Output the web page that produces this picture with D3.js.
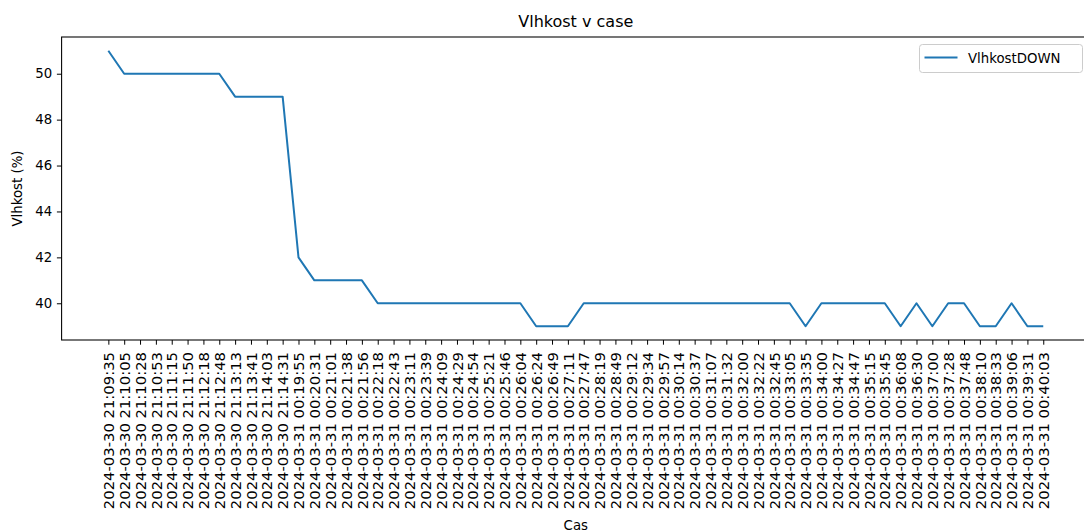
<!DOCTYPE html>
<html>
<head>
<meta charset="utf-8">
<script src="https://cdn.jsdelivr.net/npm/d3@7"></script>
<style>
  body { margin: 0; background: #fff; }
  svg { display: block; font-family: "DejaVu Sans", sans-serif; }
</style>
</head>
<body>
<div id="chart"></div>
<script>
// casy mereni
const times = [
  "2024-03-30 21:09:35", "2024-03-30 21:10:05", "2024-03-30 21:10:28", "2024-03-30 21:10:53",
  "2024-03-30 21:11:15", "2024-03-30 21:11:50", "2024-03-30 21:12:18", "2024-03-30 21:12:48",
  "2024-03-30 21:13:13", "2024-03-30 21:13:41", "2024-03-30 21:14:03", "2024-03-30 21:14:31",
  "2024-03-31 00:19:55", "2024-03-31 00:20:31", "2024-03-31 00:21:01", "2024-03-31 00:21:38",
  "2024-03-31 00:21:56", "2024-03-31 00:22:18", "2024-03-31 00:22:43", "2024-03-31 00:23:11",
  "2024-03-31 00:23:39", "2024-03-31 00:24:09", "2024-03-31 00:24:29", "2024-03-31 00:24:54",
  "2024-03-31 00:25:21", "2024-03-31 00:25:46", "2024-03-31 00:26:04", "2024-03-31 00:26:24",
  "2024-03-31 00:26:49", "2024-03-31 00:27:11", "2024-03-31 00:27:47", "2024-03-31 00:28:19",
  "2024-03-31 00:28:49", "2024-03-31 00:29:12", "2024-03-31 00:29:34", "2024-03-31 00:29:57",
  "2024-03-31 00:30:14", "2024-03-31 00:30:37", "2024-03-31 00:31:07", "2024-03-31 00:31:32",
  "2024-03-31 00:32:00", "2024-03-31 00:32:22", "2024-03-31 00:32:45", "2024-03-31 00:33:05",
  "2024-03-31 00:33:35", "2024-03-31 00:34:00", "2024-03-31 00:34:27", "2024-03-31 00:34:47",
  "2024-03-31 00:35:15", "2024-03-31 00:35:45", "2024-03-31 00:36:08", "2024-03-31 00:36:30",
  "2024-03-31 00:37:00", "2024-03-31 00:37:28", "2024-03-31 00:37:48", "2024-03-31 00:38:10",
  "2024-03-31 00:38:33", "2024-03-31 00:39:06", "2024-03-31 00:39:31", "2024-03-31 00:40:03"
];

// VlhkostDOWN (%)
const vlhkostDown = [
  51, 50, 50, 50, 50, 50, 50, 50, 49, 49, 49, 49,
  42, 41, 41, 41, 41, 40, 40, 40, 40, 40, 40, 40,
  40, 40, 40, 39, 39, 39, 40, 40, 40, 40, 40, 40,
  40, 40, 40, 40, 40, 40, 40, 40, 39, 40, 40, 40,
  40, 40, 39, 40, 39, 40, 40, 39, 39, 40, 39, 39
];

const yTicks = [40, 42, 44, 46, 48, 50];

const seriesName = "VlhkostDOWN";
const lineColor = "#1f77b4";

(function(){
  const width = 1084, height = 532;
  const plot = { left: 61.6, right: 1090, top: 37, bottom: 340 };

  const svg = d3.select("#chart")
    .append("svg")
    .attr("width", width)
    .attr("height", height);

  const x = d3.scalePoint()
    .domain(times)
    .range([plot.left, plot.right])
    .padding(2.95);

  const yExtent = d3.extent(vlhkostDown);
  const pad = (yExtent[1] - yExtent[0]) * 0.05;
  const y = d3.scaleLinear()
    .domain([yExtent[0] - pad, yExtent[1] + pad])
    .range([plot.bottom, plot.top]);

  // line
  const line = d3.line()
    .x((d, i) => x(times[i]))
    .y(d => y(d));

  svg.append("path")
    .datum(vlhkostDown)
    .attr("fill", "none")
    .attr("stroke", lineColor)
    .attr("stroke-width", 2)
    .attr("stroke-linejoin", "round")
    .attr("d", line);

  // axes
  const xAxis = svg.append("g")
    .attr("transform", `translate(0,${plot.bottom})`)
    .call(d3.axisBottom(x).tickSize(4.7).tickPadding(4.7));
  xAxis.select(".domain").remove();
  xAxis.selectAll(".tick line").attr("stroke", "#000").attr("stroke-width", 1);
  xAxis.selectAll(".tick text")
    .attr("font-size", "14.8px")
    .attr("font-family", "DejaVu Sans")
    .attr("fill", "#000")
    .attr("transform", "rotate(-90)")
    .attr("text-anchor", "end")
    .attr("x", -12)
    .attr("y", 0)
    .attr("dy", "0.35em");

  const yAxis = svg.append("g")
    .attr("transform", `translate(${plot.left},0)`)
    .call(d3.axisLeft(y).tickValues(yTicks).tickSize(4.7).tickPadding(4.7));
  yAxis.select(".domain").remove();
  yAxis.selectAll(".tick line").attr("stroke", "#000").attr("stroke-width", 1);
  yAxis.selectAll(".tick text")
    .attr("font-size", "13.3px")
    .attr("font-family", "DejaVu Sans")
    .attr("fill", "#000");

  // frame
  svg.append("rect")
    .attr("x", plot.left)
    .attr("y", plot.top)
    .attr("width", plot.right - plot.left)
    .attr("height", plot.bottom - plot.top)
    .attr("fill", "none")
    .attr("stroke", "#000")
    .attr("stroke-width", 1.07);

  const cx = (plot.left + plot.right) / 2;

  svg.append("text")
    .attr("x", cx)
    .attr("y", 27)
    .attr("text-anchor", "middle")
    .attr("font-size", "16px")
    .attr("fill", "#000")
    .text("Vlhkost v case");

  svg.append("text")
    .attr("x", cx)
    .attr("y", 530)
    .attr("text-anchor", "middle")
    .attr("font-size", "13.3px")
    .attr("fill", "#000")
    .text("Cas");

  svg.append("text")
    .attr("transform", `translate(22,${(plot.top + plot.bottom) / 2}) rotate(-90)`)
    .attr("text-anchor", "middle")
    .attr("font-size", "13.3px")
    .attr("fill", "#000")
    .text("Vlhkost (%)");

  // legend
  const legend = svg.append("g").attr("transform", "translate(919.5,44.5)");
  legend.append("rect")
    .attr("width", 163)
    .attr("height", 28)
    .attr("rx", 3)
    .attr("fill", "#fff")
    .attr("fill-opacity", 0.8)
    .attr("stroke", "#cccccc")
    .attr("stroke-width", 1);
  legend.append("line")
    .attr("x1", 5).attr("x2", 38)
    .attr("y1", 13).attr("y2", 13)
    .attr("stroke", lineColor)
    .attr("stroke-width", 2);
  legend.append("text")
    .attr("x", 48.5)
    .attr("y", 18)
    .attr("font-size", "13.3px")
    .attr("fill", "#000")
    .text(seriesName);
})();
</script>
</body>
</html>
